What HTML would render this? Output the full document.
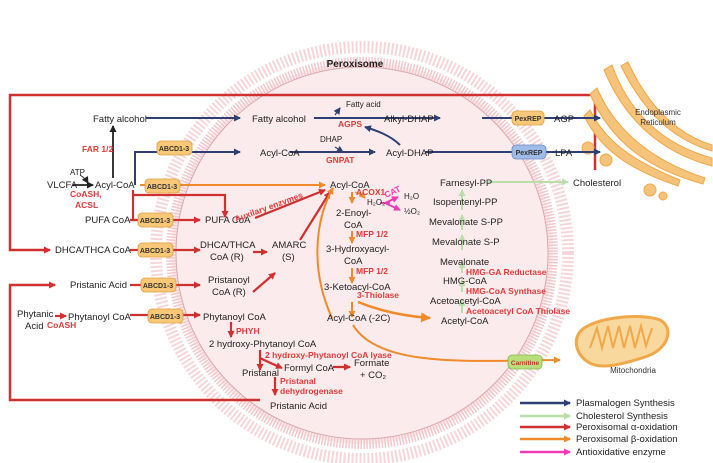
<!DOCTYPE html>
<html><head><meta charset="utf-8"><style>
body{margin:0;background:#fff}
svg{display:block;font-family:"Liberation Sans",Arial,sans-serif}
.t{font-size:9.5px;fill:#222}
.r{font-size:8.5px;fill:#e03c3c;font-weight:bold}
.s{font-size:7px;font-weight:bold;fill:#333}
</style></head><body>
<svg width="713" height="463" viewBox="0 0 713 463" xmlns="http://www.w3.org/2000/svg">
<defs>
<marker id="mb" markerUnits="userSpaceOnUse" markerWidth="7" markerHeight="7" refX="6" refY="3.5" orient="auto"><path d="M0,0L7,3.5L0,7z" fill="#2e3f73"/></marker>
<marker id="mr" markerUnits="userSpaceOnUse" markerWidth="7" markerHeight="7" refX="6" refY="3.5" orient="auto"><path d="M0,0L7,3.5L0,7z" fill="#d03030"/></marker>
<marker id="mo" markerUnits="userSpaceOnUse" markerWidth="7" markerHeight="7" refX="6" refY="3.5" orient="auto"><path d="M0,0L7,3.5L0,7z" fill="#f08a2a"/></marker>
<marker id="mg" markerUnits="userSpaceOnUse" markerWidth="7" markerHeight="7" refX="6" refY="3.5" orient="auto"><path d="M0,0L7,3.5L0,7z" fill="#b8dfa8"/></marker>
<marker id="mk" markerUnits="userSpaceOnUse" markerWidth="7" markerHeight="7" refX="6" refY="3.5" orient="auto"><path d="M0,0L7,3.5L0,7z" fill="#222"/></marker>
<marker id="mp" markerUnits="userSpaceOnUse" markerWidth="7" markerHeight="7" refX="6" refY="3.5" orient="auto"><path d="M0,0L7,3.5L0,7z" fill="#f03cb4"/></marker>
<marker id="mbig" markerUnits="userSpaceOnUse" markerWidth="10" markerHeight="10" refX="9" refY="5" orient="auto"><path d="M0,0L10,5L0,10z" fill="#f08a2a"/></marker>
</defs>
<!-- peroxisome -->
<circle cx="362" cy="253" r="206" fill="none" stroke="#f6d6d9" stroke-width="12" stroke-dasharray="2 2"/>
<circle cx="362" cy="253" r="191" fill="#fcebec" stroke="#f2c8cc" stroke-width="10" stroke-dasharray="1.5 1.5"/>
<circle cx="362" cy="253" r="186" fill="#fcebec" stroke="#d9a8ad" stroke-width="1"/>
<text x="355" y="67" font-size="10" font-weight="bold" fill="#222" text-anchor="middle">Peroxisome</text>
<!-- red frame top -->
<path d="M595,170 V95 H10 V250 H50" fill="none" stroke="#d03030" stroke-width="2.5" marker-end="url(#mr)"/>
<path d="M260,400 H10 V285 H55" fill="none" stroke="#d03030" stroke-width="2.5" marker-end="url(#mr)"/>
<!-- ER -->
<g fill="#f6c37a" stroke="#f0a84a" stroke-width="1">
<path d="M612,65 C630,115 665,145 712,158 L712,166 C660,152 625,120 604,70 Z"/>
<path d="M628,62 C650,110 680,135 712,145 L712,151 C675,140 645,115 621,66 Z"/>
<path d="M597,88 C615,130 650,160 705,178 L703,184 C645,168 610,140 590,94 Z"/>
<path d="M590,110 C605,140 630,160 680,180 L678,186 C625,168 600,148 584,116 Z"/>
<circle cx="588" cy="148" r="6"/><circle cx="606" cy="160" r="6"/><circle cx="650" cy="190" r="6"/><circle cx="663" cy="196" r="4"/>
</g>
<text x="658" y="115" font-size="8" fill="#333" text-anchor="middle">Endoplasmic</text>
<text x="658" y="125" font-size="8" fill="#333" text-anchor="middle">Reticulum</text>
<!-- mitochondria -->
<g>
<path d="M578,335 C585,318 640,312 660,320 C675,328 668,350 645,357 C620,365 600,370 588,362 C577,355 574,343 578,335Z" fill="#f9d89e" stroke="#f0a84a" stroke-width="3"/>
<path d="M590,348 l7,-20 l5,20 l6,-22 l5,22 l6,-22 l5,22 l6,-22 l5,22 l6,-22 l5,20 l6,-18" fill="none" stroke="#f0a84a" stroke-width="2"/>
</g>
<text x="633" y="373" font-size="8" fill="#333" text-anchor="middle">Mitochondria</text>
<!-- Plasmalogen (blue) -->
<g stroke="#2e3f73" stroke-width="2" fill="none">
<line x1="146" y1="118" x2="240" y2="118" marker-end="url(#mb)"/>
<line x1="314" y1="118" x2="440" y2="118" marker-end="url(#mb)"/>
<line x1="482" y1="118" x2="600" y2="118" marker-end="url(#mb)"/>
<path d="M135,185 V152 H240" marker-end="url(#mb)"/>
<line x1="290" y1="152" x2="375" y2="152" marker-end="url(#mb)"/>
<line x1="425" y1="152" x2="600" y2="152" marker-end="url(#mb)"/>
<path d="M400,145 C390,135 375,130 365,127" marker-end="url(#mb)"/>
<line x1="335" y1="115" x2="340" y2="108" stroke-width="1.2" marker-end="url(#mb)"/>
<line x1="335" y1="147" x2="343" y2="152" stroke-width="1.2" marker-end="url(#mb)"/>
</g>
<!-- black -->
<g stroke="#222" stroke-width="1.8" fill="none">
<line x1="113" y1="178" x2="113" y2="126" marker-end="url(#mk)"/>
<line x1="73" y1="185" x2="93" y2="185" marker-end="url(#mk)"/>
<path d="M80,175 Q85,178 88,183" stroke-width="1" marker-end="url(#mk)"/>
</g>
<!-- red alpha -->
<g stroke="#d03030" stroke-width="2.2" fill="none">
<path d="M133,190 V220 H148"/>
<path d="M133,195 H225 V217" marker-end="url(#mr)"/>
<line x1="130" y1="220" x2="200" y2="220" marker-end="url(#mr)"/>
<line x1="130" y1="250" x2="200" y2="250" marker-end="url(#mr)"/>
<line x1="130" y1="285" x2="200" y2="285" marker-end="url(#mr)"/>
<line x1="130" y1="315" x2="200" y2="315" marker-end="url(#mr)"/>
<line x1="55" y1="316" x2="66" y2="316" marker-end="url(#mr)"/>
<line x1="255" y1="218" x2="325" y2="190" marker-end="url(#mr)"/>
<line x1="253" y1="252" x2="267" y2="252" marker-end="url(#mr)"/>
<line x1="253" y1="292" x2="275" y2="273" marker-end="url(#mr)"/>
<line x1="300" y1="240" x2="330" y2="192" marker-end="url(#mr)"/>
<line x1="231" y1="322" x2="231" y2="337" marker-end="url(#mr)"/>
<line x1="260" y1="350" x2="260" y2="370" marker-end="url(#mr)"/>
<path d="M260,358 Q270,363 282,368" marker-end="url(#mr)"/>
<line x1="333" y1="367" x2="350" y2="367" marker-end="url(#mr)"/>
<line x1="275" y1="377" x2="275" y2="395" marker-end="url(#mr)"/>
</g>
<!-- orange beta -->
<g stroke="#f08a2a" stroke-width="2" fill="none">
<line x1="140" y1="185" x2="325" y2="185" marker-end="url(#mo)"/>
<line x1="352" y1="192" x2="352" y2="203" marker-end="url(#mo)"/>
<line x1="352" y1="231" x2="352" y2="243" marker-end="url(#mo)"/>
<line x1="352" y1="268" x2="352" y2="283" marker-end="url(#mo)"/>
<line x1="352" y1="302" x2="352" y2="317" marker-end="url(#mo)"/>
<path d="M355,192 Q362,195 365,198" stroke-width="1.2" marker-end="url(#mo)"/>
<path d="M358,302 Q390,315 430,318" stroke-width="2.5" marker-end="url(#mbig)"/>
<path d="M332,318 C310,270 315,220 333,188" marker-end="url(#mo)"/>
<path d="M353,325 C380,370 480,360 560,360" marker-end="url(#mo)"/>
</g>
<!-- pink -->
<g stroke="#f03cb4" stroke-width="1.8" fill="none">
<line x1="385" y1="203" x2="398" y2="197" marker-end="url(#mp)"/>
<line x1="385" y1="203" x2="400" y2="210" marker-end="url(#mp)"/>
<line x1="380" y1="203" x2="390" y2="203"/>
</g>
<!-- green -->
<g stroke="#b8dfa8" stroke-width="2" fill="none">
<line x1="488" y1="182" x2="568" y2="182" marker-end="url(#mg)"/>
<line x1="462" y1="210" x2="462" y2="190" marker-end="url(#mg)"/>
<line x1="462" y1="230" x2="462" y2="215" marker-end="url(#mg)"/>
<line x1="462" y1="250" x2="462" y2="235" marker-end="url(#mg)"/>
<line x1="462" y1="273" x2="462" y2="262" marker-end="url(#mg)"/>
<line x1="462" y1="292" x2="462" y2="280" marker-end="url(#mg)"/>
<line x1="462" y1="313" x2="462" y2="300" marker-end="url(#mg)"/>
</g>
<!-- transporters -->
<g font-size="6.5" font-weight="bold" fill="#333" text-anchor="middle">
<g fill="#f8c778" stroke="#e0a040" stroke-width="0.8">
<rect x="157" y="141" width="35" height="14" rx="4"/>
<rect x="145" y="179" width="35" height="14" rx="4"/>
<rect x="138" y="213" width="35" height="14" rx="4"/>
<rect x="138" y="243" width="35" height="14" rx="4"/>
<rect x="141" y="278" width="35" height="14" rx="4"/>
<rect x="148" y="309" width="35" height="14" rx="4"/>
<rect x="512" y="111" width="32" height="14" rx="4"/>
</g>
<rect x="512" y="145" width="34" height="14" rx="4" fill="#9fbbe8" stroke="#6a8cc8" stroke-width="0.8"/>
<rect x="508" y="355" width="34" height="14" rx="4" fill="#b8e07a" stroke="#88b850" stroke-width="0.8"/>
<text class="s" x="174" y="151">ABCD1-3</text>
<text class="s" x="162" y="189">ABCD1-3</text>
<text class="s" x="155" y="223">ABCD1-3</text>
<text class="s" x="155" y="253">ABCD1-3</text>
<text class="s" x="158" y="288">ABCD1-3</text>
<text class="s" x="165" y="319">ABCD1-3</text>
<text class="s" x="528" y="121">PexREP</text>
<text class="s" x="529" y="155">PexREP</text>
<text x="525" y="365" font-size="6.5" font-weight="bold" fill="#c03030">Carnitine</text>
</g>
<!-- black labels -->
<g class="t">
<text x="93" y="122">Fatty alcohol</text>
<text x="252" y="122">Fatty alcohol</text>
<text x="384" y="122">Alkyl-DHAP</text>
<text x="554" y="122">AGP</text>
<text x="260" y="156">Acyl-CoA</text>
<text x="386" y="156">Acyl-DHAP</text>
<text x="555" y="156">LPA</text>
<text x="47" y="188">VLCFA</text>
<text x="95" y="188">Acyl-CoA</text>
<text x="70" y="175" font-size="8">ATP</text>
<text x="85" y="223">PUFA CoA</text>
<text x="205" y="223">PUFA CoA</text>
<text x="55" y="253">DHCA/THCA CoA</text>
<text x="200" y="248">DHCA/THCA</text>
<text x="210" y="260">CoA (R)</text>
<text x="272" y="248">AMARC</text>
<text x="282" y="260">(S)</text>
<text x="70" y="288">Pristanic Acid</text>
<text x="208" y="283">Pristanoyl</text>
<text x="212" y="295">CoA (R)</text>
<text x="17" y="317">Phytanic</text>
<text x="25" y="329">Acid</text>
<text x="68" y="320">Phytanoyl CoA</text>
<text x="203" y="320">Phytanoyl CoA</text>
<text x="209" y="347">2 hydroxy-Phytanoyl CoA</text>
<text x="242" y="376">Pristanal</text>
<text x="284" y="371">Formyl CoA</text>
<text x="354" y="366">Formate</text>
<text x="360" y="378">+ CO₂</text>
<text x="270" y="409">Pristanic Acid</text>
<text x="330" y="188">Acyl-CoA</text>
<text x="336" y="216">2-Enoyl-</text>
<text x="344" y="228">CoA</text>
<text x="326" y="252">3-Hydroxyacyl-</text>
<text x="344" y="264">CoA</text>
<text x="324" y="290">3-Ketoacyl-CoA</text>
<text x="327" y="321">Acyl-CoA (-2C)</text>
<text x="367" y="205" font-size="8">H₂O₂</text>
<text x="404" y="199" font-size="8">H₂O</text>
<text x="404" y="214" font-size="8">½O₂</text>
<text x="346" y="107" font-size="8">Fatty acid</text>
<text x="320" y="142" font-size="8">DHAP</text>
<text x="440" y="186">Farnesyl-PP</text>
<text x="433" y="205">Isopentenyl-PP</text>
<text x="429" y="225">Mevalonate S-PP</text>
<text x="432" y="245">Mevalonate S-P</text>
<text x="440" y="265">Mevalonate</text>
<text x="443" y="284">HMG-CoA</text>
<text x="430" y="304">Acetoacetyl-CoA</text>
<text x="441" y="324">Acetyl-CoA</text>
<text x="573" y="186">Cholesterol</text>
</g>
<!-- red labels -->
<g class="r">
<text x="82" y="152">FAR 1/2</text>
<text x="70" y="197">CoASH,</text>
<text x="75" y="208">ACSL</text>
<text x="47" y="328">CoASH</text>
<text x="236" y="222" transform="rotate(-20 236 222)">Auxilary enzymes</text>
<text x="338" y="127">AGPS</text>
<text x="326" y="163">GNPAT</text>
<text x="356" y="195">ACOX1</text>
<text x="386" y="198" fill="#f03cb4" transform="rotate(-25 386 198)">CAT</text>
<text x="356" y="237">MFP 1/2</text>
<text x="356" y="274">MFP 1/2</text>
<text x="357" y="298">3-Thiolase</text>
<text x="236" y="334">PHYH</text>
<text x="265" y="358">2 hydroxy-Phytanoyl CoA lyase</text>
<text x="280" y="384">Pristanal</text>
<text x="280" y="394">dehydrogenase</text>
<text x="466" y="275">HMG-GA Reductase</text>
<text x="466" y="294">HMG-CoA Synthase</text>
<text x="466" y="314">Acetoacetyl CoA Thiolase</text>
</g>
<!-- legend -->
<g stroke-width="2.5">
<line x1="520" y1="403" x2="570" y2="403" stroke="#2e3f73" marker-end="url(#mb)"/>
<line x1="520" y1="416" x2="570" y2="416" stroke="#b8dfa8" marker-end="url(#mg)"/>
<line x1="520" y1="427" x2="570" y2="427" stroke="#d03030" marker-end="url(#mr)"/>
<line x1="520" y1="439" x2="570" y2="439" stroke="#f08a2a" marker-end="url(#mo)"/>
<line x1="520" y1="452" x2="570" y2="452" stroke="#f03cb4" marker-end="url(#mp)"/>
</g>
<g class="t" font-size="9">
<text x="576" y="406">Plasmalogen Synthesis</text>
<text x="576" y="419">Cholesterol Synthesis</text>
<text x="576" y="430">Peroxisomal α-oxidation</text>
<text x="576" y="442">Peroxisomal β-oxidation</text>
<text x="576" y="455">Antioxidative enzyme</text>
</g>
</svg>
</body></html>
